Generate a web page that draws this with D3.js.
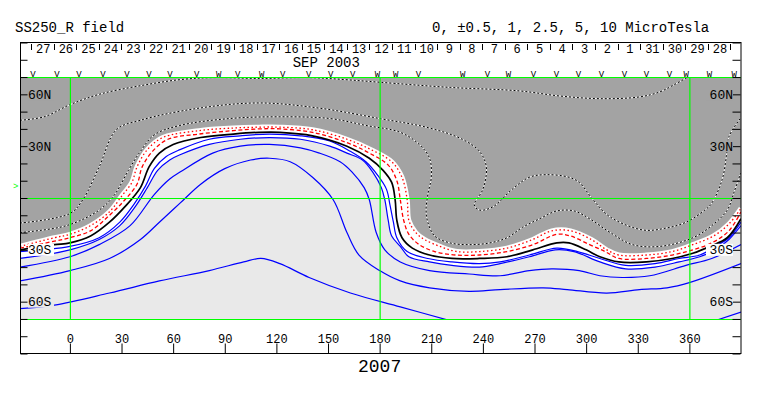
<!DOCTYPE html>
<html>
<head>
<meta charset="utf-8">
<script src="https://cdn.jsdelivr.net/npm/d3@7"></script>
<style>
  body { margin: 0; background: #fff; }
  text { font-family: "Liberation Mono", "DejaVu Sans Mono", monospace; }
</style>
</head>
<body>
<div id="chart"></div>
<script>
// ---- data: contour lines as [longitude, latitude] ----
const contourNeg10 = [[-29,45],[-15,47],[0,54],[17,60],[41,65],[64,68.5],[84,69.7],[110,69.2],[139,69.7],[160,68.5],[180,67],[221,64],[261,62],[285,59],[308,57.5],[331,58.5],[343,61.5],[351,65.5],[360,70.5]];
const contourNeg5 = [[-29,-14.5],[0,-9],[7.5,-1],[17,18],[27,39.5],[41,45],[75,52],[110,55],[145,52],[180,46],[209,40.5],[228,34],[238,27],[242,18],[240,5],[235,-4],[238,-7],[246,-5],[257,5],[267,12],[277,13.5],[290,12],[296,9],[304,-1],[314,-11],[333,-18.5],[346,-17.5],[358,-14],[369,-7],[373,-3],[379,10.5],[381.5,24],[383,35.5],[390,46.5]];
const contourNeg25 = [[-29,-20],[-2,-16],[17,-7],[26,2],[34,16],[41,27],[49,36.5],[64,42],[93,46],[122,47],[151,46],[172,42],[192,38],[203,31],[209,23],[210,12],[208,2],[207,-7],[208,-14],[212,-22],[221,-26],[232,-27],[244,-26],[254,-23],[263,-17],[273,-12],[283,-7.5],[293,-7.5],[302,-12],[314,-20],[327,-27],[343,-28],[362,-23],[373,-16],[382,-7],[386,3.5],[390,15]];
const contourNeg1 = [[-29,-28],[-9,-23],[0,-21],[12,-16],[23,-8],[30,1],[36,9],[39,18],[45,28],[54,35],[75,39],[95,40.5],[110,41],[122,41],[141,39.5],[161,34],[175,28],[187,21],[193,12],[196,-1],[197,-13],[201,-20],[206,-24],[215,-28],[225,-31],[238,-31],[254,-29],[269,-24],[280,-19],[291,-19],[303,-24],[312,-30],[319,-33],[335,-33],[350,-31],[362,-27],[374,-22],[383,-15],[390,-6]];
const contourNeg05 = [[-29,-29],[-9,-25],[0,-23],[12,-19],[23,-10],[32,-1],[39,8],[42,18],[48,27],[57,34],[75,37],[95,39],[110,40],[122,40],[141,38],[161,32],[174,26],[185,19],[190,10],[192,-1],[194,-13],[197,-21],[203,-27],[212,-31],[224,-33],[238,-33],[254,-31],[269,-27],[283,-21],[291,-22],[302,-27],[311,-31],[319,-35],[335,-35],[350,-33],[362,-30],[373,-26],[383,-19],[390,-8]];
const contourZero = [[-29,-30],[-9,-27],[0,-26],[12,-22],[23,-14],[32,-5],[41,6],[46,18],[52,26],[60,31],[76,35],[95,37],[110,38],[122,38],[141,36],[161,30],[174,23],[182,16],[187,9],[189,-1],[190,-13],[193,-23],[199,-29],[209,-33],[222,-35],[238,-35],[254,-34],[269,-30],[283,-26],[290,-26],[300,-30],[308,-34],[319,-37],[335,-37],[350,-35],[362,-32],[372,-28],[382,-23],[390,-12]];
const contourPos05 = [[-29,-31],[0,-28],[17,-23],[29,-14],[37,-4],[44,7],[49,17],[56,24],[64,28],[81,34],[99,36],[116,37],[134,36],[151,33],[163,27],[172,21],[179,13],[184,5],[186,-4],[188,-14],[190,-23],[196,-31],[208,-35],[222,-37],[238,-38],[250,-37],[267,-33],[283,-29],[295,-31],[308,-35],[323,-39],[340,-38],[354,-35],[366,-33],[375,-28],[383,-23],[390,-14]];
const contourPos1 = [[-29,-35],[0,-30],[17,-24],[29,-16],[38,-5],[45,6],[51,16],[58,22],[64,25],[81,31],[99,34],[116,35],[134,34],[151,30],[161,26],[170,22],[176,15],[181,6],[183,-1],[185,-13],[187,-22],[192,-28],[197,-34],[209,-37],[222,-39],[238,-40],[250,-38],[267,-34],[282,-30],[293,-31],[308,-37],[323,-41],[340,-40],[354,-37],[366,-34],[375,-30],[383,-24],[390,-16]];
const contourPos25 = [[-29,-40],[0,-34],[17,-27],[35,-16],[49,2],[58,11],[64,15],[83,26],[99,30],[116,31],[134,29],[145,26],[157,21],[164,15],[171,6],[174,-1],[178,-20],[183,-30],[192,-37],[209,-42],[232,-44],[250,-45],[267,-42],[280,-41],[296,-42],[308,-45],[321,-46],[337,-45],[358,-39],[373,-35],[390,-27]];
const contourPos5 = [[-29,-48],[0,-42],[23,-35],[41,-24],[52,-14],[64,-3],[76,8],[90,17],[105,22],[116,23],[128,21],[141,12],[153,-1],[161,-20],[168,-33],[180,-42],[192,-48],[209,-52],[232,-54],[250,-53],[275,-52],[289,-53],[312,-55],[331,-53],[347,-52],[360,-49],[390,-38]];
const contourPos10a = [[-29,-64],[-9,-62],[23,-55],[52,-48],[81,-42],[101,-37],[111,-35],[122,-38],[139,-46],[163,-55],[192,-63],[221,-71]];
const contourPos10b = [[375,-71],[390,-66]];

// axis ticks and labels
const lonTicks = [0, 30, 60, 90, 120, 150, 180, 210, 240, 270, 300, 330, 360];
const latTicks = d3.range(-90, 91, 10);
const latLabels = [60, 30, -30, -60];
const gridLon = [0, 180, 360];
const gridLat = [70, 0, -70];

// header: days of month along the rotation, and observation marks
const dayLabels = ['27','26','25','24','23','22','21','20','19','18','17','16','15','14','13','12','11','10','9','8','7','6','5','4','3','2','1','31','30','29','28'];
const dayTickLon = [-22.6, 383.8];   // first and last day separator
const markerLon = [-21.5,-7.5,5.2,19.2,33.1,45.9,58.1,73.7,86.5,97.5,111.5,123.7,138.8,151.5,164.3,178.8,189.3,202.6,228.2,242.7,254.9,269.4,282.7,295.5,308.9,322.2,335,348.4,358.2,371.6,386.1];
const markerType = ['V','V','V','V','V','V','V','V','W','V','W','V','V','V','V','W','W','V','W','V','W','V','V','V','V','V','V','V','W','W','W'];
const b0Angle = 7.2;

const width = 763, height = 396;
const svg = d3.select('#chart').append('svg')
  .attr('width', width).attr('height', height);

const x = d3.scaleLinear().domain([-29, 390]).range([20, 741]);
const y = d3.scaleLinear().domain([90, -90]).range([42.5, 353.5]);

const gray = '#a3a3a3', light = '#e9e9e9', green = '#00ff00';

svg.append('clipPath').attr('id', 'plot')
  .append('rect')
  .attr('x', x(-29)).attr('y', y(70))
  .attr('width', x(390) - x(-29)).attr('height', y(-70) - y(70));

var line = d3.line()
  .x(d => x(d[0])).y(d => y(d[1]))
  .curve(d3.curveCatmullRom.alpha(0.5));

// region above a contour, closed along the top edge
function above(pts) {
  return line(pts) + `L${x(390)},${y(75)}L${x(-29)},${y(75)}Z`;
}

var plot = svg.append('g').attr('clip-path', 'url(#plot)');

/* ------- FILLS ------- */
plot.append('rect')
  .attr('x', x(-29)).attr('y', y(70))
  .attr('width', x(390) - x(-29)).attr('height', y(-70) - y(70))
  .attr('fill', light);
plot.append('path').attr('d', above(contourPos1)).attr('fill', '#fff');
plot.append('path').attr('d', above(contourNeg1)).attr('fill', gray);
plot.append('path').attr('d', line(contourNeg1))
  .attr('fill', 'none').attr('stroke', '#fff').attr('stroke-width', 5);

/* ------- CONTOURS ------- */
[contourNeg10, contourNeg5, contourNeg25].forEach(function (c) {
  plot.append('path').attr('d', line(c))
    .attr('fill', 'none').attr('stroke', '#fff').attr('stroke-width', 1);
  plot.append('path').attr('d', line(c))
    .attr('fill', 'none').attr('stroke', '#000').attr('stroke-width', 1)
    .attr('stroke-dasharray', '2,2');
});

plot.append('path').attr('d', line(contourNeg1))
  .attr('fill', 'none').attr('stroke', '#f00').attr('stroke-width', 1.3)
  .attr('stroke-dasharray', '1.5,2.5');
plot.append('path').attr('d', line(contourNeg05))
  .attr('fill', 'none').attr('stroke', '#f00').attr('stroke-width', 1.3)
  .attr('stroke-dasharray', '4,2.5');

[contourPos05, contourPos1, contourPos25, contourPos5, contourPos10a, contourPos10b].forEach(function (c) {
  plot.append('path').attr('d', line(c))
    .attr('fill', 'none').attr('stroke', '#0000ff').attr('stroke-width', 1.2);
});

plot.append('path').attr('d', line(contourZero))
  .attr('fill', 'none').attr('stroke', '#000').attr('stroke-width', 1.7);

/* ------- GREEN GRID ------- */
svg.selectAll('line.glon').data(gridLon).enter().append('line')
  .attr('x1', d => x(d) + 0.5).attr('x2', d => x(d) + 0.5)
  .attr('y1', y(70)).attr('y2', y(-70))
  .attr('stroke', green).attr('stroke-width', 1.2);
svg.selectAll('line.glat').data(gridLat).enter().append('line')
  .attr('x1', x(-29)).attr('x2', x(390))
  .attr('y1', d => Math.round(y(d)) + 0.5).attr('y2', d => Math.round(y(d)) + 0.5)
  .attr('stroke', green).attr('stroke-width', 1.2);

/* ------- AXES ------- */
svg.append('rect')
  .attr('x', 20.5).attr('y', 42.5)
  .attr('width', 720.5).attr('height', 311)
  .attr('fill', 'none').attr('stroke', '#000');

var leftAxis = svg.append('g').attr('transform', 'translate(20.5,0)')
  .call(d3.axisRight(y).tickValues(latTicks).tickSize(7).tickFormat(''));
var rightAxis = svg.append('g').attr('transform', 'translate(740.5,0)')
  .call(d3.axisLeft(y).tickValues(latTicks).tickSize(8).tickFormat(''));
[leftAxis, rightAxis].forEach(a => a.select('.domain').remove());

var bottomAxis = svg.append('g').attr('transform', 'translate(0,353.5)')
  .call(d3.axisTop(x).tickValues(lonTicks).tickSize(10).tickPadding(1).tickSizeOuter(0));
bottomAxis.select('.domain').remove();
bottomAxis.selectAll('text')
  .style('font-family', '"Liberation Mono", monospace').style('font-size', '12px');

// latitude labels with a patch behind them
function latText(d) { return Math.abs(d) + (d > 0 ? 'N' : 'S'); }
function latBg(d) { return d > 0 ? gray : (d === -30 ? '#fff' : light); }

var latLeft = svg.selectAll('g.latl').data(latLabels).enter().append('g');
latLeft.append('rect')
  .attr('x', 28).attr('y', d => y(d) - 6).attr('width', 26).attr('height', 12)
  .attr('fill', latBg);
latLeft.append('text')
  .attr('x', 28).attr('y', d => y(d) + 4.5)
  .style('font-size', '13px').text(latText);

var latRight = svg.selectAll('g.latr').data(latLabels).enter().append('g');
latRight.append('rect')
  .attr('x', 706).attr('y', d => y(d) - 6).attr('width', 27).attr('height', 12)
  .attr('fill', latBg);
latRight.append('text')
  .attr('x', 733).attr('y', d => y(d) + 4.5)
  .attr('text-anchor', 'end')
  .style('font-size', '13px').text(latText);

/* ------- HEADER ------- */
var dayPos = d3.scaleLinear().domain([0, dayLabels.length]).range(dayTickLon);

svg.selectAll('line.day').data(d3.range(dayLabels.length + 1)).enter().append('line')
  .attr('x1', i => Math.round(x(dayPos(i))) + 0.5).attr('x2', i => Math.round(x(dayPos(i))) + 0.5)
  .attr('y1', 44).attr('y2', 50)
  .attr('stroke', '#000');

svg.selectAll('text.day').data(dayLabels).enter().append('text')
  .attr('x', (d, i) => x(dayPos(i + 0.5)) + 1)
  .attr('y', 52.5)
  .attr('text-anchor', 'middle')
  .style('font-size', '12px')
  .text(d => d);

svg.append('text')
  .attr('x', x(149)).attr('y', 67)
  .attr('text-anchor', 'middle')
  .style('font-size', '14px')
  .text('SEP 2003');

svg.selectAll('text.mark').data(markerLon).enter().append('text')
  .attr('x', d => x(d)).attr('y', 77)
  .attr('text-anchor', 'middle')
  .style('font-size', '9px')
  .text((d, i) => markerType[i]);

svg.append('text')
  .attr('x', 13).attr('y', y(b0Angle) + 3)
  .attr('fill', green)
  .style('font-size', '9px')
  .text('>');

/* ------- TITLES ------- */
svg.append('text')
  .attr('x', 15).attr('y', 32)
  .style('font-size', '14px')
  .text('SS250_R field');

svg.append('text')
  .attr('x', 432).attr('y', 32)
  .style('font-size', '14px')
  .text('0, \u00b10.5, 1, 2.5, 5, 10 MicroTesla');

svg.append('text')
  .attr('x', x(180)).attr('y', 372)
  .attr('text-anchor', 'middle')
  .style('font-size', '18px')
  .text('2007');
</script>
</body>
</html>
